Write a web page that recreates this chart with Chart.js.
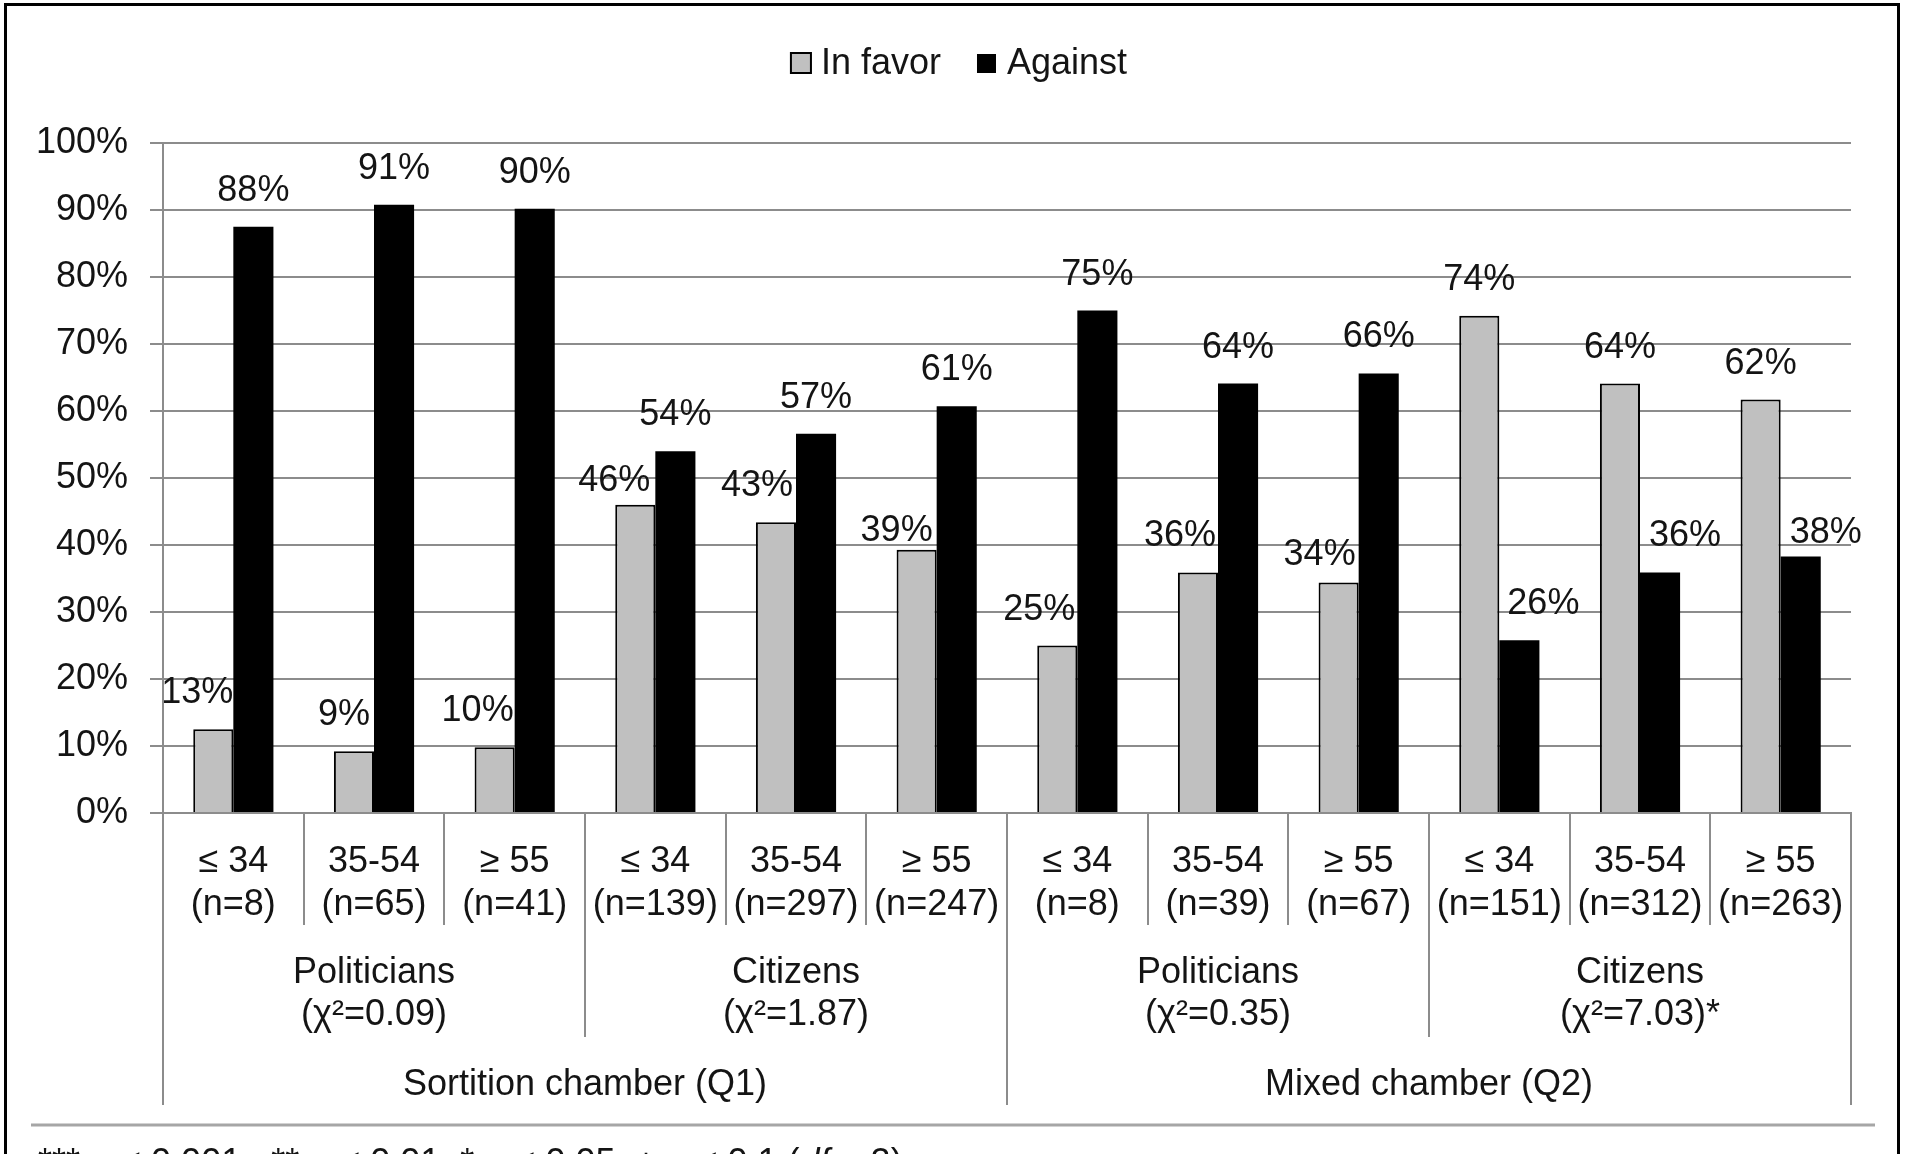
<!DOCTYPE html>
<html>
<head>
<meta charset="utf-8">
<script src="https://cdn.jsdelivr.net/npm/chart.js@4.4.0/dist/chart.umd.min.js"></script>
<style>
  html, body { margin: 0; padding: 0; background: #fff; overflow: hidden; }
  #wrap { width: 1911px; height: 1154px; position: relative; }
</style>
</head>
<body>
<div id="wrap"><canvas id="ageChart"></canvas></div>
<script>
// ── Data ───────────────────────────────────────────────────────────
const ageBands    = ['≤ 34', '35-54', '≥ 55', '≤ 34', '35-54', '≥ 55',
                     '≤ 34', '35-54', '≥ 55', '≤ 34', '35-54', '≥ 55'];
const sampleSizes = [8, 65, 41, 139, 297, 247, 8, 39, 67, 151, 312, 263];
const inFavor     = [12.5, 9.2, 9.8, 46.0, 43.4, 39.3, 25.0, 35.9, 34.4, 74.2, 64.1, 61.7];
const against     = [87.5, 90.8, 90.2, 54.0, 56.6, 60.7, 75.0, 64.1, 65.6, 25.8, 35.9, 38.3];
const groupNames  = ['Politicians', 'Citizens', 'Politicians', 'Citizens'];
const groupStats  = ['(χ²=0.09)', '(χ²=1.87)', '(χ²=0.35)', '(χ²=7.03)*'];
const chambers    = ['Sortition chamber (Q1)', 'Mixed chamber (Q2)'];

const FONT  = "'Liberation Sans', Arial, sans-serif";
const INK   = '#141414';
const GRID  = '#8c8c8c';
const GREY  = '#c0c0c0';

// label nudges (px), so the labels sit where the original put them
const favorNudgeX   = [-16, -10, -17, -21, -19, -20, -18, -18, -19, 0, 0, 0];
const favorNudgeY   = [0, 0, 0, 12, 0, 17, 0, 0, 8, 0, 0, 0];
const againstNudgeX = [0, 0, 0, 0, 0, 0, 0, 0, 0, 24, 25, 25];
const againstNudgeY = [0, 0, 0, 0, 0, 0, 0, 0, 0, 0, 0, 13];

Chart.defaults.font.family = FONT;
Chart.defaults.font.size   = 36;
Chart.defaults.color       = INK;

// ── Value labels over bars ─────────────────────────────────────────
const valueLabels = {
  id: 'valueLabels',
  afterDatasetsDraw(chart) {
    const { ctx } = chart;
    ctx.save();
    ctx.font = `36px ${FONT}`;
    ctx.fillStyle = INK;
    ctx.textAlign = 'center';
    ctx.textBaseline = 'alphabetic';
    chart.data.datasets.forEach((ds, di) => {
      const nx = di === 0 ? favorNudgeX : againstNudgeX;
      const ny = di === 0 ? favorNudgeY : againstNudgeY;
      chart.getDatasetMeta(di).data.forEach((bar, i) => {
        const txt = Math.round(ds.data[i]) + '%';
        ctx.fillText(txt, bar.x + nx[i], bar.y - 26 + ny[i]);
      });
    });
    ctx.restore();
  },
};

// ── Legend, category hierarchy, footnote, frame ────────────────────
const decorations = {
  id: 'decorations',
  afterDraw(chart) {
    const { ctx, chartArea: ca, scales: { x } } = chart;
    const W = chart.width;
    const axisY = ca.bottom;
    const n = ageBands.length;
    const edge = i => x.getPixelForValue(i - 0.5);

    ctx.save();

    // dividers under the axis
    ctx.strokeStyle = GRID;
    ctx.lineWidth = 2;
    for (let i = 0; i <= n; i++) {
      const depth = i % 6 === 0 ? 292 : (i % 3 === 0 ? 224 : 112);
      const px = Math.round(edge(i));
      ctx.beginPath();
      ctx.moveTo(px, axisY);
      ctx.lineTo(px, axisY + depth);
      ctx.stroke();
    }

    ctx.fillStyle = INK;
    ctx.font = `36px ${FONT}`;
    ctx.textAlign = 'center';
    ctx.textBaseline = 'alphabetic';

    groupNames.forEach((g, gi) => {
      const cx = x.getPixelForValue(gi * 3 + 1);
      ctx.fillText(g, cx, axisY + 170);
      ctx.fillText(groupStats[gi], cx, axisY + 212);
    });
    chambers.forEach((c, ci) => {
      const cx = x.getPixelForValue(ci * 6 + 2.5);
      ctx.fillText(c, cx, axisY + 282);
    });

    // footnote rule + text
    ctx.strokeStyle = '#a6a6a6';
    ctx.lineWidth = 3;
    ctx.beginPath();
    ctx.moveTo(31, axisY + 312);
    ctx.lineTo(1875, axisY + 312);
    ctx.stroke();

    ctx.textAlign = 'left';
    let fx = 38;
    const fy = axisY + 361;
    const parts = [
      ['*** p < 0.001 , ** p < 0.01, * p < 0.05, + p < 0.1 (', ''],
      ['df', 'italic '],
      [' = 2)', ''],
    ];
    parts.forEach(([t, st]) => {
      ctx.font = `${st}36px ${FONT}`;
      ctx.fillText(t, fx, fy);
      fx += ctx.measureText(t).width;
    });

    // legend
    ctx.font = `36px ${FONT}`;
    const t1 = chart.data.datasets[0].label;
    const t2 = chart.data.datasets[1].label;
    const w1 = ctx.measureText(t1).width;
    const w2 = ctx.measureText(t2).width;
    const box = 22, gap = 9, sep = 35;
    const total = box + gap + w1 + sep + box + gap + w2;
    let lx = W / 2 + 3 - total / 2;
    const ly = 74;
    ctx.fillStyle = GREY;
    ctx.fillRect(lx, ly - 22, box, box);
    ctx.strokeStyle = '#000';
    ctx.lineWidth = 2;
    ctx.strokeRect(lx + 1, ly - 21, box - 2, box - 2);
    ctx.fillStyle = INK;
    ctx.fillText(t1, lx + box + gap, ly);
    lx += box + gap + w1 + sep;
    ctx.fillStyle = '#000';
    ctx.fillRect(lx + 1, ly - 20, box - 3, box - 3);
    ctx.fillStyle = INK;
    ctx.fillText(t2, lx + box + gap, ly);

    // outer frame
    ctx.strokeStyle = '#000';
    ctx.lineWidth = 3;
    ctx.strokeRect(5.5, 4.5, 1893, 1200);

    ctx.restore();
  },
};

const ctx = document.getElementById('ageChart').getContext('2d');
new Chart(ctx, {
  type: 'bar',
  data: {
    labels: ageBands.map((a, i) => [a, `(n=${sampleSizes[i]})`]),
    datasets: [
      {
        label:           'In favor',
        data:            inFavor,
        backgroundColor: GREY,
        borderColor:     '#000',
        borderWidth:     2,
      },
      {
        label:           'Against',
        data:            against,
        backgroundColor: '#000',
        borderWidth:     0,
      },
    ],
  },
  options: {
    responsive: true,
    maintainAspectRatio: false,
    animation: false,
    events: [],
    layout: { padding: { top: 143, right: 60, left: 0, bottom: 0 } },
    datasets: { bar: { categoryPercentage: 0.57, barPercentage: 1.0 } },
    plugins: {
      legend:  { display: false },
      tooltip: { enabled: false },
    },
    scales: {
      x: {
        grid:   { display: false },
        border: { display: true, color: GRID, width: 2 },
        ticks:  { color: INK, font: { size: 36 }, padding: 19, maxRotation: 0, autoSkip: false },
        afterFit: s => { s.height = 341; },
      },
      y: {
        min: 0,
        max: 100,
        grid:   { color: GRID, lineWidth: 2, tickLength: 13, drawTicks: true },
        border: { display: true, color: GRID, width: 2 },
        ticks:  { stepSize: 10, padding: 22, color: INK, font: { size: 36 }, callback: v => `${v}%` },
        afterFit: s => { s.width = 163; },
      },
    },
  },
  plugins: [valueLabels, decorations],
});
</script>
</body>
</html>
